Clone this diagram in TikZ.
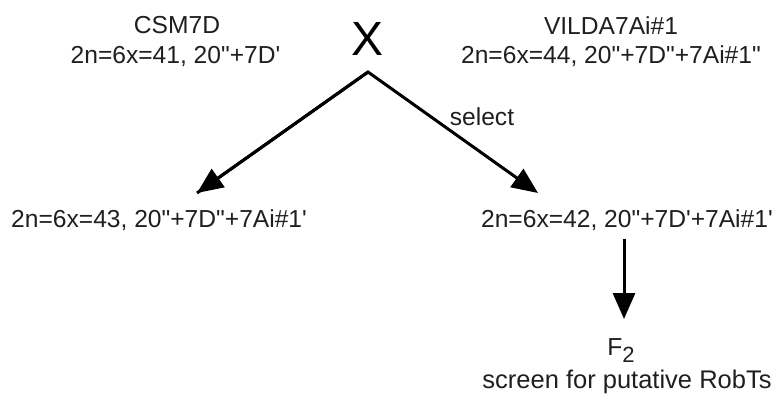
\documentclass[tikz,border=0pt]{standalone}
\usepackage{fontspec}
\newfontfamily\af{Liberation Sans}
\usetikzlibrary{arrows.meta}
\begin{document}
\begin{tikzpicture}[x=1pt,y=-1pt,
  lbl/.style={font=\af\fontsize{24.6}{29}\selectfont, inner sep=0pt, text=black!88},
  conn/.style={line width=3pt, -{Triangle[length=26pt,width=22pt]}}]
\useasboundingbox (0,0) rectangle (773,394);
\node[lbl, anchor=base] (p1a) at (177,33) {CSM7D};
\node[lbl, anchor=base] (p1b) at (175.5,63) {2n=6x=41, 20"+7D'};
\node[lbl, anchor=base] (p2a) at (611,34) {VILDA7Ai\#1};
\node[lbl, anchor=base] (p2b) at (611,63) {2n=6x=44, 20"+7D"+7Ai\#1"};
\node[font=\af\fontsize{48}{50}\selectfont, inner sep=0pt, anchor=base] (x) at (368,55) {X};
\node[lbl, anchor=base west] (b1) at (11,227) {2n=6x=43, 20"+7D"+7Ai\#1'};
\node[lbl, anchor=base east] (b2) at (773,227) {2n=6x=42, 20"+7D'+7Ai\#1'};
\node[lbl, anchor=base] (f2) at (621,355) {F\raisebox{-7pt}{\fontsize{22}{24}\selectfont 2}};
\node[lbl, font=\af\fontsize{25.5}{29}\selectfont, anchor=base] (scr) at (627,388.5) {screen for putative RobTs};
\node[lbl, anchor=base] (sel) at (482,125) {select};
\coordinate (apex) at (368,72);
\coordinate (t1) at (197,193);
\coordinate (t2) at (538,193);
\coordinate (d1) at (624,239);
\coordinate (d2) at (624,319);
\draw[conn, line join=miter] (t1) -- (apex) -- (t2);
\draw[conn] (apex) -- (t1);
\draw[conn] (d1) -- (d2);
\end{tikzpicture}
\end{document}
